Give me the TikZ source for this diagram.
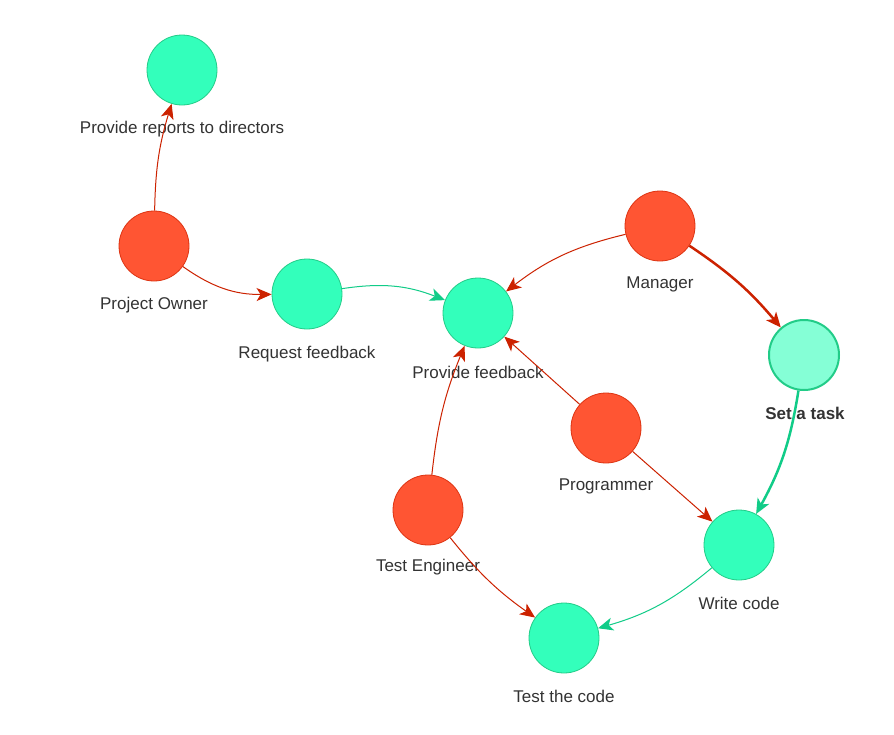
\documentclass[tikz,border=0pt]{standalone}
\usepackage{fontspec}
\setmainfont{Liberation Sans}
\usetikzlibrary{arrows.meta}
\definecolor{rf}{HTML}{FF5533}\definecolor{rb}{HTML}{DD3311}
\definecolor{gf}{HTML}{33FFBB}\definecolor{gb}{HTML}{22CC88}
\definecolor{ge}{HTML}{11CC88}\definecolor{re}{HTML}{CC2200}
\definecolor{tx}{HTML}{333333}
\begin{document}
\begin{tikzpicture}[x=1pt,y=-1pt,
 red/.style={circle,minimum size=70pt,inner sep=0pt,fill=rf,draw=rb,line width=0.8pt},
 grn/.style={circle,minimum size=70pt,inner sep=0pt,fill=gf,draw=gb,line width=0.8pt},
 lbl/.style={text=tx,font=\fontsize{17}{20}\selectfont},
 re/.style={draw=re,line width=1pt,-{Stealth[length=15pt,width=13pt,inset=4pt]}},
 ge/.style={draw=ge,line width=1pt,-{Stealth[length=15pt,width=13pt,inset=4pt]}}]
\useasboundingbox[fill=white] (0,0) rectangle (894,734);
\node[grn] (pr) at (182,70) {};
\node[red] (po) at (154,246) {};
\node[grn] (rq) at (307,294) {};
\node[grn] (pf) at (478,313) {};
\node[red] (mg) at (660,226) {};
\node[grn,fill=gf!60!white,line width=2pt] (st) at (804,355) {};
\node[red] (pg) at (606,428) {};
\node[red] (te) at (428,510) {};
\node[grn] (wc) at (739,545) {};
\node[grn] (tc) at (564,638) {};
\node[lbl] at (182,129) {Provide reports to directors};
\node[lbl] at (154,305) {Project Owner};
\node[lbl] at (307,354) {Request feedback};
\node[lbl] at (478,372) {Provide feedback};
\node[lbl] at (660,284) {Manager};
\node[lbl,font=\fontsize{17}{20}\selectfont\bfseries] at (805,413) {Set a task};
\node[lbl] at (606,486) {Programmer};
\node[lbl] at (428,567) {Test Engineer};
\node[lbl] at (739,603) {Write code};
\node[lbl] at (564,696) {Test the code};
\draw[re] (po) to[bend left=8] (pr);
\draw[re] (po) to[bend right=18] (rq);
\draw[ge] (rq) to[bend left=15] (pf);
\draw[re] (mg) to[bend right=12] (pf);
\draw[re,line width=2.5pt] (mg) to[bend left=8] (st);
\draw[ge,line width=2.5pt] (st) to[bend left=10] (wc);
\draw[re] (pg) -- (pf);
\draw[re] (pg) -- (wc);
\draw[re] (te) to[bend left=8] (pf);
\draw[re] (te) to[bend right=8] (tc);
\draw[ge] (wc) to[bend left=12] (tc);
\end{tikzpicture}
\end{document}
